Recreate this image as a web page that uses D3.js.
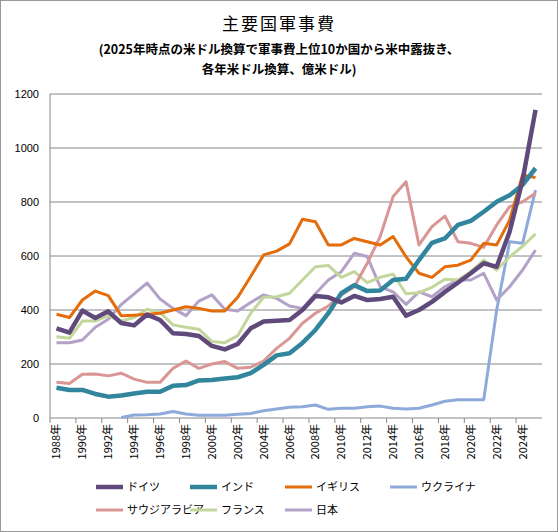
<!DOCTYPE html>
<html><head><meta charset="utf-8">
<script src="https://cdn.jsdelivr.net/npm/d3@7"></script>
<style>body{margin:0;background:#fff;font-family:"Noto Sans CJK JP",sans-serif;}</style>
</head><body><svg id="c" width="558" height="532"></svg>
<script>
// years and values (億米ドル)
const years = d3.range(1988, 2026);
const germany = [332,316,398,370,395,352,343,383,363,314,311,304,267,254,274,332,357,360,363,400,452,447,428,452,437,441,449,379,400,430,467,501,536,573,560,690,881,1141];
const india = [112,104,104,89,79,83,91,97,97,119,122,139,141,146,151,166,197,232,240,278,326,388,462,492,470,472,511,516,585,649,665,715,730,764,801,825,863,925];
const uk = [384,372,437,470,453,379,381,384,388,400,412,406,396,396,447,524,604,618,645,736,727,641,641,665,653,641,672,597,536,521,560,566,585,647,641,733,900,891];
const ukraine = [null,null,null,null,null,2,11,12,15,24,15,10,10,10,14,17,27,33,40,42,48,32,36,36,42,44,36,33,36,48,62,68,68,68,400,653,647,844];
const saudi = [132,128,162,163,156,166,144,132,132,184,211,184,200,209,184,188,211,258,295,351,388,415,456,486,573,672,820,875,641,709,748,653,647,632,715,783,801,832];
const france = [301,295,359,359,379,359,372,403,390,345,336,329,283,279,305,388,447,449,462,511,560,565,521,542,501,521,533,460,464,484,514,511,542,585,548,597,636,682];
const japan = [279,279,289,336,366,420,460,500,441,406,379,433,456,403,396,428,456,443,415,406,460,511,542,610,598,486,467,421,467,449,486,511,511,536,437,486,548,622];

const series = [
  {name:"ドイツ", v:germany, c:"#604a7b", w:4.5},
  {name:"インド", v:india, c:"#31859c", w:4.5},
  {name:"イギリス", v:uk, c:"#e46c0a", w:3},
  {name:"ウクライナ", v:ukraine, c:"#8eaadb", w:3},
  {name:"サウジアラビア", v:saudi, c:"#d99694", w:3},
  {name:"フランス", v:france, c:"#c3d69b", w:3},
  {name:"日本", v:japan, c:"#b3a2c7", w:3}
];
const yTicks = [0,200,400,600,800,1000,1200];

const svg = d3.select("#c");
svg.append("rect").attr("x",0.5).attr("y",0.5).attr("width",557).attr("height",531)
  .attr("fill","#fff").attr("stroke","#999");

svg.append("text").attr("x",279).attr("y",30).attr("text-anchor","middle")
  .attr("font-size",17).attr("letter-spacing",2).text("主要国軍事費");
svg.append("text").attr("x",279).attr("y",54).attr("text-anchor","middle")
  .attr("font-size",12.5).attr("font-weight","bold").text("(2025年時点の米ドル換算で軍事費上位10か国から米中露抜き、");
svg.append("text").attr("x",279).attr("y",74).attr("text-anchor","middle")
  .attr("font-size",12.5).attr("font-weight","bold").text("各年米ドル換算、億米ドル)");

const x0 = 50, x1 = 542;
const x = d3.scaleBand().domain(years).range([x0, x1]);
const y = d3.scaleLinear().domain([0,1200]).range([418, 94]);

// gridlines
svg.append("g").selectAll("line").data(yTicks).join("line")
  .attr("x1",x0).attr("x2",x1).attr("y1",d=>y(d)).attr("y2",d=>y(d))
  .attr("stroke","#868686").attr("stroke-width",1);
svg.append("line").attr("x1",x0).attr("x2",x0).attr("y1",94).attr("y2",418).attr("stroke","#868686");

svg.append("g").selectAll("text").data(yTicks).join("text")
  .attr("x",39).attr("y",d=>y(d)+4).attr("text-anchor","end").attr("font-size",11)
  .attr("font-family","Liberation Sans, sans-serif").text(d=>d);

// x ticks and labels
svg.append("g").selectAll("line").data(years.filter(d=>d%2==0)).join("line")
  .attr("x1",d=>x(d)).attr("x2",d=>x(d)).attr("y1",418).attr("y2",423).attr("stroke","#868686");
svg.append("g").selectAll("text").data(years.filter(d=>d%2==0)).join("text")
  .attr("transform",d=>`translate(${x(d)+x.bandwidth()/2+4},${424}) rotate(-90)`)
  .attr("text-anchor","end").attr("font-size",11).text(d=>d+"年");

const line = d3.line().defined(d=>d[1]!=null)
  .x(d=>x(d[0])+x.bandwidth()/2).y(d=>y(d[1]));

const order = ["ウクライナ","日本","フランス","サウジアラビア","イギリス","インド","ドイツ"];
order.forEach(n=>{
  const s = series.find(t=>t.name==n);
  svg.append("path").datum(years.map((yr,i)=>[yr,s.v[i]]))
    .attr("d",line).attr("fill","none").attr("stroke",s.c)
    .attr("stroke-width",s.w).attr("stroke-linejoin","round");
});

// legend
const lx = [96,190,285,390];
series.forEach((s,i)=>{
  const col = i<4 ? i : i-4, row = i<4 ? 0 : 1;
  const gx = lx[col], gy = 487 + row*23;
  svg.append("line").attr("x1",gx).attr("x2",gx+27).attr("y1",gy).attr("y2",gy)
    .attr("stroke",s.c).attr("stroke-width",s.w);
  svg.append("text").attr("x",gx+31).attr("y",gy+4).attr("font-size",11).text(s.name);
});
</script></body></html>
